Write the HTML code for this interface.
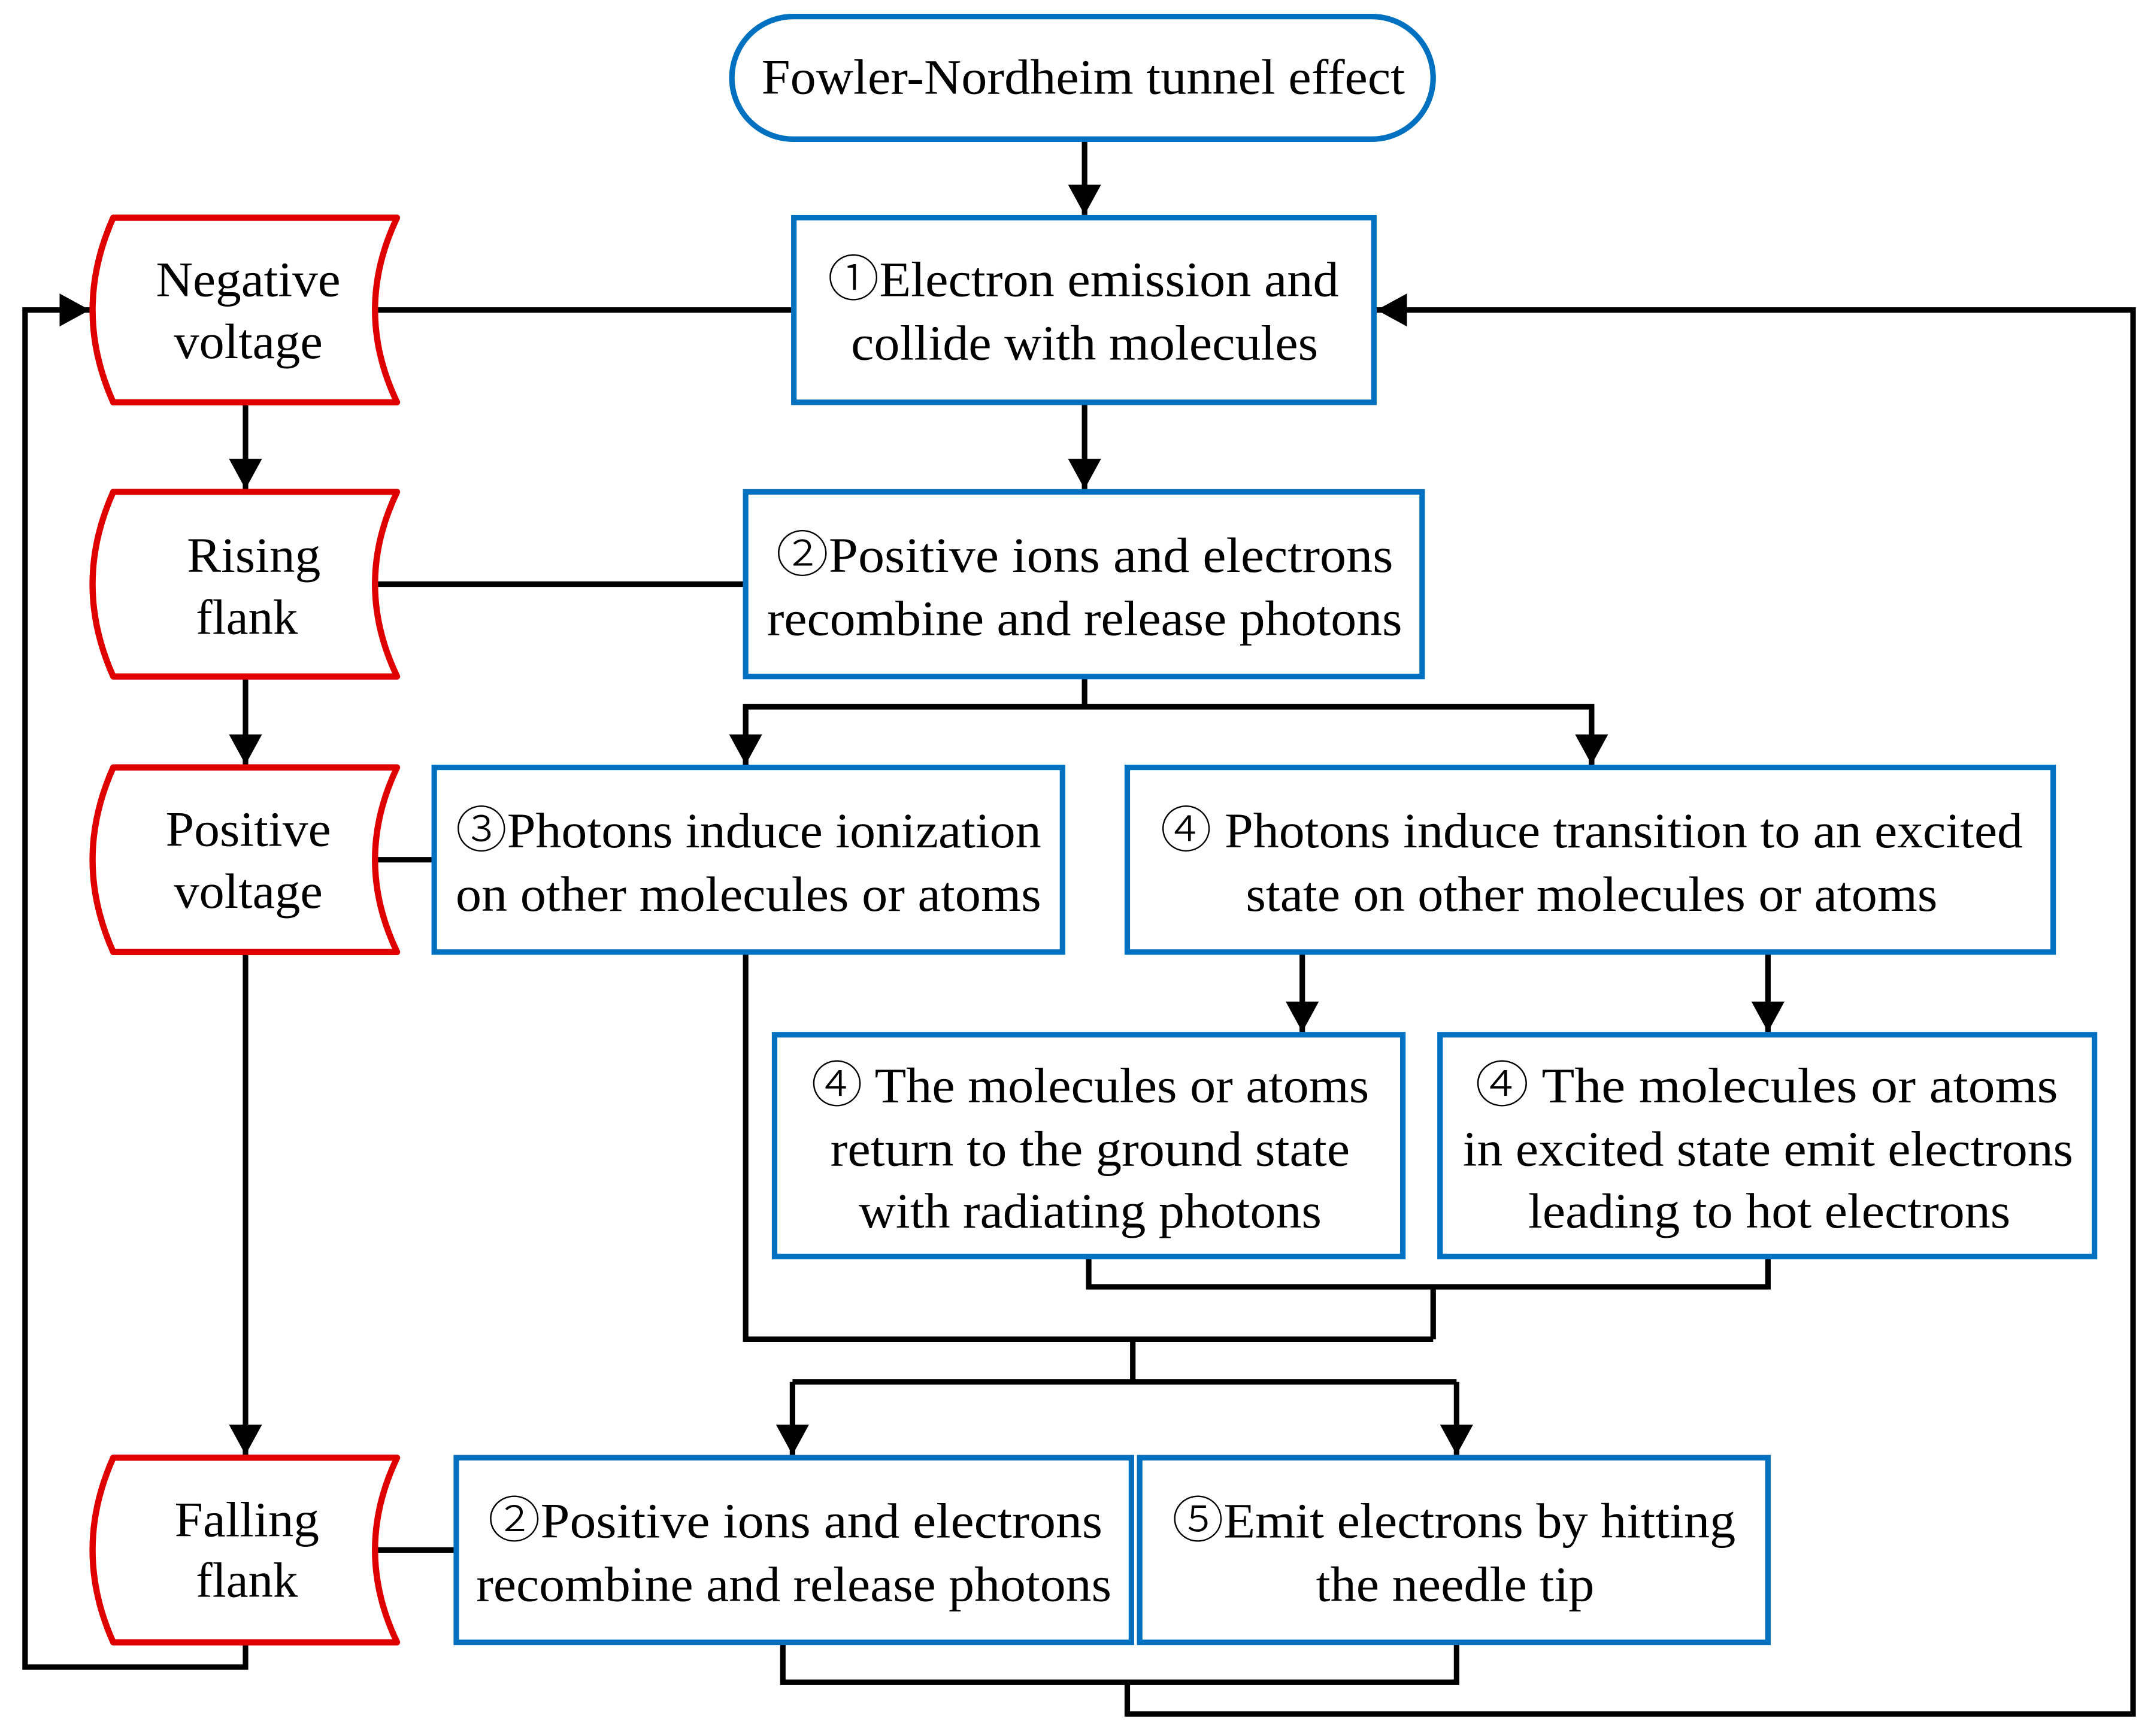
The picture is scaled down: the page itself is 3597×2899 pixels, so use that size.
<!DOCTYPE html>
<html><head><meta charset="utf-8"><style>html,body{margin:0;padding:0;background:#fff}svg{display:block}.c{font-family:"Noto Sans CJK JP","Noto Sans CJK SC",sans-serif;font-weight:300}</style></head>
<body>
<svg width="3597" height="2899" viewBox="0 0 1563 1260" xmlns="http://www.w3.org/2000/svg">
<defs>
<marker id="a" markerWidth="24" markerHeight="24" refX="22" refY="12" orient="auto" markerUnits="userSpaceOnUse">
<path d="M0,0 L22,12 L0,24 Z" fill="#000"/></marker>
</defs>
<g fill="none" stroke="#000" stroke-width="4" stroke-linejoin="miter">
<line x1="787" y1="101" x2="787" y2="156" marker-end="url(#a)"/>
<line x1="787" y1="292" x2="787" y2="355" marker-end="url(#a)"/>
<line x1="576" y1="225" x2="271" y2="225"/>
<polyline points="178,1192 178,1210 18,1210 18,225 65,225" marker-end="url(#a)"/>
<polyline points="818,1221 818,1244 1548,1244 1548,225 999,225" marker-end="url(#a)"/>
<line x1="178" y1="292" x2="178" y2="355" marker-end="url(#a)"/>
<line x1="178" y1="491" x2="178" y2="555" marker-end="url(#a)"/>
<line x1="178" y1="691" x2="178" y2="1056" marker-end="url(#a)"/>
<line x1="271" y1="424" x2="541" y2="424"/>
<line x1="273" y1="624" x2="315" y2="624"/>
<line x1="271" y1="1125" x2="331" y2="1125"/>
<line x1="787" y1="491" x2="787" y2="513"/>
<polyline points="541,555 541,513 1155,513 1155,555"/>
<line x1="541" y1="513" x2="541" y2="555" marker-end="url(#a)"/>
<line x1="1155" y1="513" x2="1155" y2="555" marker-end="url(#a)"/>
<line x1="945" y1="691" x2="945" y2="749" marker-end="url(#a)"/>
<line x1="1283" y1="691" x2="1283" y2="749" marker-end="url(#a)"/>
<polyline points="790,912 790,934 1283,934 1283,912"/>
<line x1="1040" y1="934" x2="1040" y2="972"/>
<polyline points="541,691 541,972 1040,972"/>
<line x1="822" y1="972" x2="822" y2="1003"/>
<line x1="575" y1="1003" x2="1057" y2="1003"/>
<line x1="575" y1="1003" x2="575" y2="1056" marker-end="url(#a)"/>
<line x1="1057" y1="1003" x2="1057" y2="1056" marker-end="url(#a)"/>
<polyline points="568,1192 568,1221 1057,1221 1057,1192"/>
</g>
<g fill="#fff" stroke="#df0000" stroke-width="4.5" stroke-linejoin="round">
<path d="M82,158 L288,158 Q256,225 288,292 L82,292 Q52,225 82,158 Z"/>
<path d="M82,357 L288,357 Q256,424 288,491 L82,491 Q52,424 82,357 Z"/>
<path d="M82,557 L288,557 Q256,624 288,691 L82,691 Q52,624 82,557 Z"/>
<path d="M82,1058 L288,1058 Q256,1125 288,1192 L82,1192 Q52,1125 82,1058 Z"/>
</g>
<g fill="#fff" stroke="#0070c0" stroke-width="4">
<rect x="531" y="12" width="509" height="89" rx="44.5"/>
<rect x="576" y="158" width="421" height="134"/>
<rect x="541" y="357" width="491" height="134"/>
<rect x="315" y="557" width="456" height="134"/>
<rect x="818" y="557" width="672" height="134"/>
<rect x="562" y="751" width="456" height="161"/>
<rect x="1045" y="751" width="475" height="161"/>
<rect x="331" y="1058" width="490" height="134"/>
<rect x="827" y="1058" width="456" height="134"/>
</g>
<g font-family="'Liberation Serif','DejaVu Serif',serif" font-size="36" fill="#000" text-anchor="middle">
<text x="786" y="68" textLength="467" lengthAdjust="spacingAndGlyphs">Fowler-Nordheim tunnel effect</text>
<text x="786" y="215" textLength="371" lengthAdjust="spacingAndGlyphs"><tspan class="c">①</tspan>Electron emission and</text>
<text x="787" y="261" textLength="339" lengthAdjust="spacingAndGlyphs">collide with molecules</text>
<text x="787" y="415" textLength="448" lengthAdjust="spacingAndGlyphs"><tspan class="c">②</tspan>Positive  ions and electrons</text>
<text x="787" y="461" textLength="461" lengthAdjust="spacingAndGlyphs">recombine and release photons</text>
<text x="543" y="615" textLength="425" lengthAdjust="spacingAndGlyphs"><tspan class="c">③</tspan>Photons induce ionization</text>
<text x="543" y="661" textLength="425" lengthAdjust="spacingAndGlyphs">on other molecules or atoms</text>
<text x="1155" y="615" textLength="626" lengthAdjust="spacingAndGlyphs"><tspan class="c">④</tspan> Photons induce transition to an excited</text>
<text x="1155" y="661" textLength="502" lengthAdjust="spacingAndGlyphs">state on other molecules or atoms</text>
<text x="791" y="800" textLength="405" lengthAdjust="spacingAndGlyphs"><tspan class="c">④</tspan> The molecules or atoms</text>
<text x="791" y="846" textLength="377" lengthAdjust="spacingAndGlyphs">return to the ground state</text>
<text x="791" y="891" textLength="336" lengthAdjust="spacingAndGlyphs">with radiating photons</text>
<text x="1282" y="800" textLength="423" lengthAdjust="spacingAndGlyphs"><tspan class="c">④</tspan> The   molecules or atoms</text>
<text x="1283" y="846" textLength="443" lengthAdjust="spacingAndGlyphs">in excited state emit electrons</text>
<text x="1284" y="891" textLength="350" lengthAdjust="spacingAndGlyphs">leading to hot electrons</text>
<text x="577" y="1116" textLength="446" lengthAdjust="spacingAndGlyphs"><tspan class="c">②</tspan>Positive  ions and electrons</text>
<text x="576" y="1162" textLength="461" lengthAdjust="spacingAndGlyphs">recombine and release photons</text>
<text x="1055" y="1116" textLength="409" lengthAdjust="spacingAndGlyphs"><tspan class="c">⑤</tspan>Emit electrons by hitting</text>
<text x="1056" y="1162" textLength="202" lengthAdjust="spacingAndGlyphs">the needle tip</text>
<text x="180" y="215" textLength="134" lengthAdjust="spacingAndGlyphs">Negative</text>
<text x="180" y="260" textLength="108" lengthAdjust="spacingAndGlyphs">voltage</text>
<text x="184" y="415" textLength="97" lengthAdjust="spacingAndGlyphs">Rising</text>
<text x="179" y="460" textLength="74" lengthAdjust="spacingAndGlyphs">flank</text>
<text x="180" y="614" textLength="120" lengthAdjust="spacingAndGlyphs">Positive</text>
<text x="180" y="659" textLength="108" lengthAdjust="spacingAndGlyphs">voltage</text>
<text x="179" y="1115" textLength="105" lengthAdjust="spacingAndGlyphs">Falling</text>
<text x="179" y="1159" textLength="74" lengthAdjust="spacingAndGlyphs">flank</text>
</g>
</svg>
</body></html>
